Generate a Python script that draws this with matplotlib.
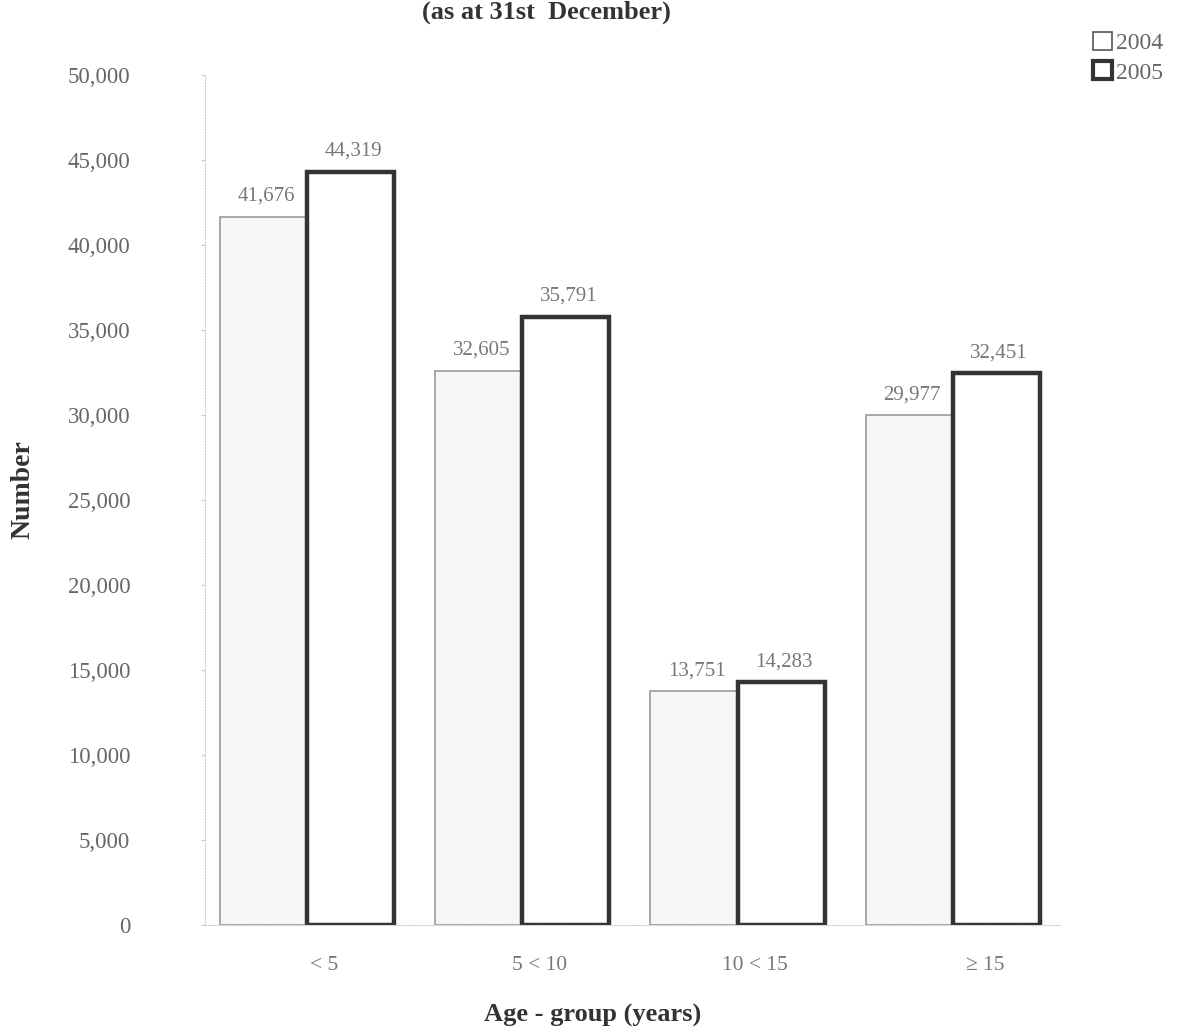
import matplotlib.pyplot as plt
import numpy as np
from matplotlib.patches import Patch

plt.rcParams['font.family'] = ['Liberation Serif', 'DejaVu Serif']

age_groups = ["< 5", "5 < 10", "10 < 15", "\u2265 15"]
years = ["2004", "2005"]
counts_2004 = [41676, 32605, 13751, 29977]
counts_2005 = [44319, 35791, 14283, 32451]

fig = plt.figure(figsize=(11.86, 10.35), dpi=100)
ax = fig.add_axes([0.173, 0.1063, 0.721, 0.8212])

x = np.arange(len(age_groups))
width = 0.405

b1 = ax.bar(x - width / 2, counts_2004, width, color="#f6f6f6",
            edgecolor="#9a9a9a", linewidth=1.2)
b2 = ax.bar(x + width / 2, counts_2005, width, color="white",
            edgecolor="#333333", linewidth=3.2)

for bars, vals in ((b1, counts_2004), (b2, counts_2005)):
    for bar, v in zip(bars, vals):
        ax.annotate(f"{v:,}", (bar.get_x() + bar.get_width() / 2, v),
                    xytext=(2, 8), textcoords="offset points",
                    ha="center", va="bottom", fontsize=15, color="#777777")

ax.set_ylim(0, 50000)
ax.set_xlim(-0.474, 3.50)
ax.set_yticks(np.arange(0, 50001, 5000))
ax.set_yticklabels([f"{v:,}" for v in range(0, 50001, 5000)])
ax.set_xticks(x + np.array([0.08, 0.08, 0.08, 0.15]))
ax.set_xticklabels(age_groups)
ax.tick_params(axis="y", labelsize=16.5, labelcolor="#666666", length=3,
               color="#cccccc", pad=51)
ax.tick_params(axis="x", labelsize=15.5, labelcolor="#777777", length=0, pad=22)

for side in ("top", "right"):
    ax.spines[side].set_visible(False)
ax.spines["left"].set_color("#cccccc")
ax.spines["left"].set_linestyle(":")
ax.spines["bottom"].set_color("#cccccc")
ax.spines["bottom"].set_linestyle(":")

fig.text(0.461, 0.988, "(as at 31st  December)", ha="center", va="center",
         fontsize=19, fontweight="bold", color="#333333")
fig.text(0.5, 0.019, "Age - group (years)", ha="center", va="center",
         fontsize=19, fontweight="bold", color="#333333")
fig.text(0.019, 0.527, "Number", ha="center", va="center", rotation=90,
         fontsize=20, fontweight="bold", color="#333333")

handles = [Patch(facecolor="white", edgecolor="#555555", linewidth=1.2),
           Patch(facecolor="white", edgecolor="#333333", linewidth=3.0)]
leg = fig.legend(handles, years, loc="upper right",
                 bbox_to_anchor=(0.995, 0.985), frameon=False, fontsize=17,
                 handlelength=0.8, handleheight=0.8, handletextpad=0.2,
                 labelspacing=0.3, borderaxespad=0.3)
for t in leg.get_texts():
    t.set_color("#666666")

fig.savefig("out.png", dpi=100)
